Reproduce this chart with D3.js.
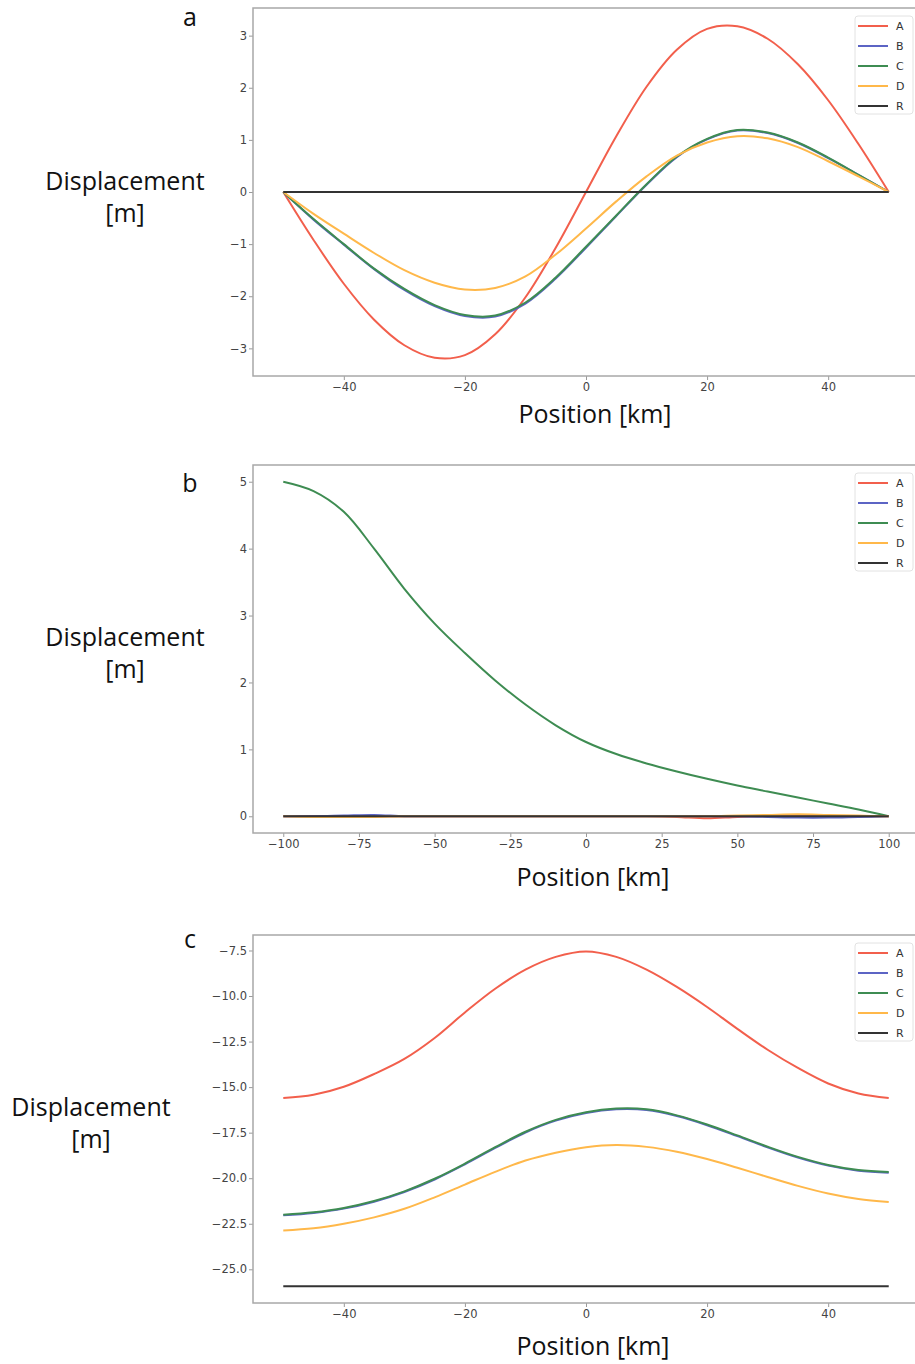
<!DOCTYPE html>
<html>
<head>
<meta charset="utf-8">
<script src="https://cdn.jsdelivr.net/npm/d3@7"></script>
<style>
  body { margin: 0; background: #fff; }
  svg { display: block; }
</style>
</head>
<body>
<svg id="chart" width="915" height="1364"></svg>
<script>
// ---- series ----
const seriesNames = ["A", "B", "C", "D", "R"];

// ---- panel a: displacement along a 100 km profile ----
const positionsA = [-50, -45, -40, -35, -30, -25, -20, -15, -10, -5, 0, 5, 10, 15, 20, 25, 30, 35, 40, 45, 50];
const panelA_A = [0, -0.92, -1.76, -2.45, -2.94, -3.18, -3.13, -2.73, -2.02, -1.07, 0, 1.07, 2.02, 2.73, 3.13, 3.18, 2.94, 2.45, 1.76, 0.92, 0];
const panelA_B = [0, -0.53, -1.01, -1.48, -1.88, -2.19, -2.38, -2.39, -2.14, -1.66, -1.07, -0.46, 0.14, 0.67, 1.01, 1.18, 1.13, 0.94, 0.65, 0.33, 0];
const panelA_C = [0, -0.52, -1.0, -1.47, -1.86, -2.17, -2.36, -2.37, -2.12, -1.64, -1.05, -0.45, 0.15, 0.68, 1.02, 1.19, 1.14, 0.95, 0.66, 0.33, 0];
const panelA_D = [0, -0.42, -0.8, -1.17, -1.5, -1.74, -1.87, -1.84, -1.62, -1.2, -0.7, -0.18, 0.3, 0.7, 0.95, 1.07, 1.03, 0.86, 0.59, 0.3, 0];
const panelA_R = [0, 0, 0, 0, 0, 0, 0, 0, 0, 0, 0, 0, 0, 0, 0, 0, 0, 0, 0, 0, 0];

// ---- panel b: displacement along a 200 km profile ----
const positionsB = [-100, -90, -80, -70, -60, -50, -40, -30, -20, -10, 0, 10, 20, 30, 40, 50, 60, 70, 80, 90, 100];
const panelB_A = [0, 0, 0, 0, 0, 0, 0, 0, 0, 0, 0, 0, 0, -0.01, -0.03, -0.01, 0, 0, 0, 0, 0];
const panelB_B = [0, 0, 0.01, 0.02, 0, 0, 0, 0, 0, 0, 0, 0, 0, 0, 0, 0, -0.01, -0.02, -0.02, -0.01, 0];
const panelB_C = [5.0, 4.86, 4.55, 4.0, 3.4, 2.88, 2.44, 2.03, 1.67, 1.36, 1.11, 0.93, 0.79, 0.67, 0.56, 0.46, 0.37, 0.28, 0.19, 0.1, 0];
const panelB_D = [0, -0.01, -0.01, -0.01, 0, 0, 0, 0, 0, 0, 0, 0, 0, 0, 0, 0.01, 0.02, 0.03, 0.02, 0.01, 0];
const panelB_R = [0, 0, 0, 0, 0, 0, 0, 0, 0, 0, 0, 0, 0, 0, 0, 0, 0, 0, 0, 0, 0];

// ---- panel c: displacement along a 100 km profile ----
const positionsC = [-50, -45, -40, -35, -30, -25, -20, -15, -10, -5, 0, 5, 10, 15, 20, 25, 30, 35, 40, 45, 50];
const panelC_A = [-15.6, -15.42, -14.98, -14.28, -13.45, -12.3, -10.9, -9.6, -8.55, -7.85, -7.55, -7.85, -8.55, -9.5, -10.6, -11.8, -12.95, -13.95, -14.8, -15.35, -15.6];
const panelC_B = [-22.04, -21.91, -21.67, -21.29, -20.76, -20.07, -19.24, -18.34, -17.49, -16.84, -16.42, -16.22, -16.26, -16.59, -17.09, -17.69, -18.31, -18.87, -19.31, -19.59, -19.7];
const panelC_C = [-22.0, -21.87, -21.63, -21.25, -20.72, -20.03, -19.2, -18.3, -17.45, -16.8, -16.38, -16.18, -16.22, -16.55, -17.05, -17.65, -18.27, -18.83, -19.27, -19.55, -19.66];
const panelC_D = [-22.87, -22.75, -22.5, -22.15, -21.68, -21.05, -20.35, -19.65, -19.03, -18.6, -18.3, -18.18, -18.28, -18.55, -18.95, -19.43, -19.93, -20.42, -20.84, -21.14, -21.3];
const panelC_R = [-25.93, -25.93, -25.93, -25.93, -25.93, -25.93, -25.93, -25.93, -25.93, -25.93, -25.93, -25.93, -25.93, -25.93, -25.93, -25.93, -25.93, -25.93, -25.93, -25.93, -25.93];

// ---- tick values ----
const xTicksA = [-40, -20, 0, 20, 40];
const yTicksA = [-3, -2, -1, 0, 1, 2, 3];
const xTicksB = [-100, -75, -50, -25, 0, 25, 50, 75, 100];
const yTicksB = [0, 1, 2, 3, 4, 5];
const xTicksC = [-40, -20, 0, 20, 40];
const yTicksC = [-25, -22.5, -20, -17.5, -15, -12.5, -10, -7.5];

// ---- styling ----
const colors = { A: "#f25f4c", B: "#5c64c4", C: "#3e8c52", D: "#ffb84a", R: "#333333" };
const titleFont = "'Open Sans', 'DejaVu Sans', sans-serif";
const tickFont = "'DejaVu Sans', sans-serif";

const svg = d3.select("#chart");
const plotLeft = 253, plotWidth = 666, plotHeight = 368;

function drawPanel(cfg) {
  const top = cfg.top;
  const g = svg.append("g");

  const x = d3.scaleLinear().domain(cfg.xDomain).range([plotLeft, plotLeft + plotWidth]);
  const y = d3.scaleLinear().domain(cfg.yDomain).range([top + plotHeight, top]);

  const clipId = "clip-" + cfg.id;
  svg.append("clipPath").attr("id", clipId)
    .append("rect").attr("x", plotLeft).attr("y", top).attr("width", plotWidth).attr("height", plotHeight);

  // axes
  const xAxis = d3.axisBottom(x).tickValues(cfg.xTicks).tickSize(4).tickPadding(3)
    .tickFormat(cfg.xFormat);
  const yAxis = d3.axisLeft(y).tickValues(cfg.yTicks).tickSize(4).tickPadding(2)
    .tickFormat(cfg.yFormat);

  const gx = g.append("g").attr("transform", `translate(0,${top + plotHeight})`).call(xAxis);
  const gy = g.append("g").attr("transform", `translate(${plotLeft},0)`).call(yAxis);
  [gx, gy].forEach(a => {
    a.select(".domain").remove();
    a.selectAll(".tick line").attr("stroke", "#9a9a9a").attr("stroke-width", 1);
    a.selectAll(".tick text").attr("fill", "#444").style("font-family", tickFont).style("font-size", "11.5px");
  });

  // curves
  const line = d3.line()
    .x(d => x(d[0]))
    .y(d => y(d[1]))
    .curve(d3.curveCatmullRom.alpha(0.5));

  const lines = g.append("g").attr("clip-path", `url(#${clipId})`);
  seriesNames.forEach(name => {
    const vals = cfg.series[name];
    const pts = cfg.positions.map((p, i) => [p, vals[i]]);
    lines.append("path")
      .datum(pts)
      .attr("d", line)
      .attr("fill", "none")
      .attr("stroke", colors[name])
      .attr("stroke-width", 2)
      .attr("stroke-linejoin", "round");
  });

  // frame
  g.append("rect")
    .attr("x", plotLeft).attr("y", top)
    .attr("width", plotWidth).attr("height", plotHeight)
    .attr("fill", "none").attr("stroke", "#a8a8a8").attr("stroke-width", 1.5);

  // legend
  const lg = g.append("g").attr("transform", `translate(855,${top + 8})`);
  lg.append("rect").attr("x", 0).attr("y", 0).attr("width", 58).attr("height", 98)
    .attr("rx", 3).attr("fill", "#fff").attr("fill-opacity", 0.85)
    .attr("stroke", "#e2e2e2").attr("stroke-width", 1);
  seriesNames.forEach((name, i) => {
    const ly = 10 + i * 20;
    lg.append("line").attr("x1", 3).attr("x2", 33).attr("y1", ly).attr("y2", ly)
      .attr("stroke", colors[name]).attr("stroke-width", 2);
    lg.append("text").attr("x", 41).attr("y", ly + 4).text(name)
      .attr("fill", "#333").style("font-family", tickFont).style("font-size", "11px");
  });

  // labels
  g.append("text").attr("x", cfg.letterX).attr("y", cfg.letterY).attr("text-anchor", "middle")
    .text(cfg.letter).attr("fill", "#111").style("font-family", titleFont).style("font-size", "25px");
  g.append("text").attr("x", cfg.xLabelX).attr("y", cfg.xLabelY).attr("text-anchor", "middle")
    .text("Position [km]").attr("fill", "#111").style("font-family", titleFont).style("font-size", "25px");
  const yl = g.append("text").attr("text-anchor", "middle").attr("fill", "#111")
    .style("font-family", titleFont).style("font-size", "25px");
  yl.append("tspan").attr("x", cfg.yLabelX).attr("y", cfg.yLabelY).text("Displacement");
  yl.append("tspan").attr("x", cfg.yLabelX).attr("y", cfg.yLabelY + 32).text("[m]");
}

const intFmt = d3.format("d");
const oneDec = d3.format(".1f");

drawPanel({
  id: "a", top: 8, letter: "a", letterX: 190, letterY: 26,
  xDomain: [-55, 55], yDomain: [-3.53, 3.53],
  xTicks: xTicksA, yTicks: yTicksA, xFormat: intFmt, yFormat: intFmt,
  positions: positionsA,
  series: { A: panelA_A, B: panelA_B, C: panelA_C, D: panelA_D, R: panelA_R },
  xLabelX: 595, xLabelY: 423, yLabelX: 125, yLabelY: 190
});

drawPanel({
  id: "b", top: 465, letter: "b", letterX: 190, letterY: 492,
  xDomain: [-110, 110], yDomain: [-0.25, 5.25],
  xTicks: xTicksB, yTicks: yTicksB, xFormat: intFmt, yFormat: intFmt,
  positions: positionsB,
  series: { A: panelB_A, B: panelB_B, C: panelB_C, D: panelB_D, R: panelB_R },
  xLabelX: 593, xLabelY: 886, yLabelX: 125, yLabelY: 646
});

drawPanel({
  id: "c", top: 935, letter: "c", letterX: 190, letterY: 948,
  xDomain: [-55, 55], yDomain: [-26.85, -6.65],
  xTicks: xTicksC, yTicks: yTicksC, xFormat: intFmt, yFormat: oneDec,
  positions: positionsC,
  series: { A: panelC_A, B: panelC_B, C: panelC_C, D: panelC_D, R: panelC_R },
  xLabelX: 593, xLabelY: 1355, yLabelX: 91, yLabelY: 1116
});
</script>
</body>
</html>
